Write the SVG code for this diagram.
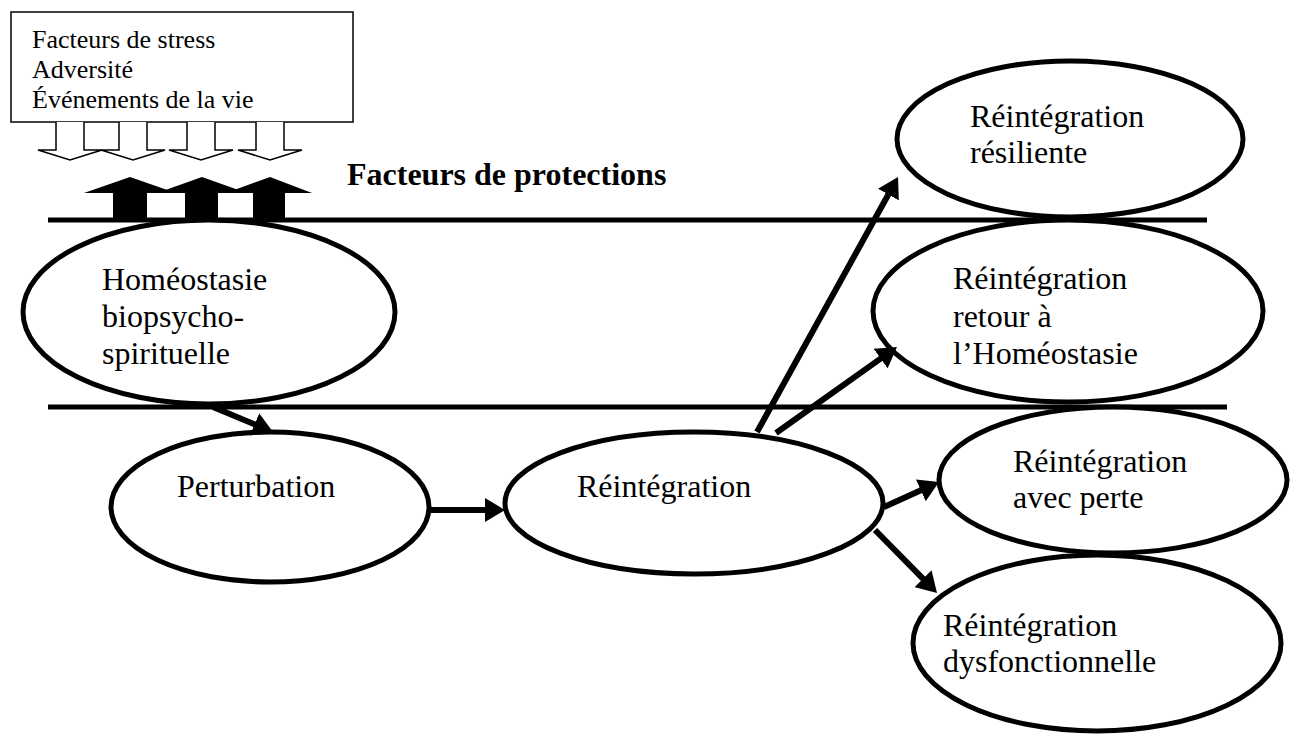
<svg xmlns="http://www.w3.org/2000/svg" width="1296" height="735" viewBox="0 0 1296 735">
<style>
text{font-family:"Liberation Serif","Times New Roman",serif;fill:#000}
.lbl{font-size:32px}
.box{font-size:26px}
.bold{font-size:32px;font-weight:bold}
.ell{fill:#fff;stroke:#000;stroke-width:5}
.rule{stroke:#000;stroke-width:5}
.con{stroke:#000;stroke-width:6;fill:none;marker-end:url(#ah)}
.wa{fill:#fff;stroke:#000;stroke-width:1.5}
.ba{fill:#000}
</style>
<defs>
<marker id="ah" viewBox="0 0 20 24" markerWidth="20" markerHeight="24" refX="2" refY="12" orient="auto" markerUnits="userSpaceOnUse">
<path d="M0,0 L20,12 L0,24 z" fill="#000"/>
</marker>
</defs>
<rect width="1296" height="735" fill="#fff"/>

<g id="rules">
<line class="rule" x1="48" y1="220" x2="1207" y2="220"/>
<line class="rule" x1="48" y1="407" x2="1227" y2="407"/>
</g>

<g id="stress-box">
<rect x="11" y="12" width="342" height="110" fill="#fff" stroke="#000" stroke-width="1.5"/>
<text class="box" x="32" y="48">Facteurs de stress</text>
<text class="box" x="32" y="78">Adversité</text>
<text class="box" x="32" y="108">Événements de la vie</text>
</g>

<g id="stress-arrows">
<path class="wa" d="M56,122 L56,150 L38,150 L70,160 L102,150 L84,150 L84,122"/>
<path class="wa" d="M119,122 L119,150 L101,150 L133,160 L165,150 L147,150 L147,122"/>
<path class="wa" d="M187,122 L187,150 L169,150 L201,160 L233,150 L215,150 L215,122"/>
<path class="wa" d="M256,122 L256,150 L238,150 L270,160 L302,150 L284,150 L284,122"/>
</g>

<g id="protection-arrows">
<path class="ba" d="M113,220 L113,193 L84,193 L130,177 L176,193 L147,193 L147,220 z"/>
<path class="ba" d="M185,220 L185,193 L157,193 L202,177 L247,193 L218,193 L218,220 z"/>
<path class="ba" d="M253,220 L253,193 L226,193 L270,177 L312,193 L285,193 L285,220 z"/>
</g>

<g id="protection-label">
<text class="bold" x="347" y="185">Facteurs de protections</text>
</g>

<g id="homeostasie">
<ellipse class="ell" cx="209" cy="312" rx="186" ry="92"/>
<text class="lbl" x="102" y="290">Homéostasie</text>
<text class="lbl" x="102" y="327">biopsycho-</text>
<text class="lbl" x="102" y="364">spirituelle</text>
</g>

<g id="perturbation">
<ellipse class="ell" cx="270" cy="507" rx="159" ry="75"/>
<text class="lbl" x="177" y="497">Perturbation</text>
</g>

<g id="reintegration">
<ellipse class="ell" cx="694" cy="503" rx="189" ry="71"/>
<text class="lbl" x="577" y="497">Réintégration</text>
</g>

<g id="resiliente">
<ellipse class="ell" cx="1070" cy="139" rx="173" ry="78"/>
<text class="lbl" x="970" y="127">Réintégration</text>
<text class="lbl" x="970" y="163">résiliente</text>
</g>

<g id="retour">
<ellipse class="ell" cx="1068" cy="311" rx="195" ry="91"/>
<text class="lbl" x="953" y="289">Réintégration</text>
<text class="lbl" x="953" y="327">retour à</text>
<text class="lbl" x="953" y="364">l’Homéostasie</text>
</g>

<g id="avec-perte">
<ellipse class="ell" cx="1113" cy="480" rx="174" ry="73"/>
<text class="lbl" x="1013" y="472">Réintégration</text>
<text class="lbl" x="1013" y="508">avec perte</text>
</g>

<g id="dysfonctionnelle">
<ellipse class="ell" cx="1097" cy="643" rx="184" ry="88"/>
<text class="lbl" x="943" y="636">Réintégration</text>
<text class="lbl" x="943" y="672">dysfonctionnelle</text>
</g>

<g id="connectors">
<line class="con" x1="213" y1="407" x2="256.4" y2="425.1"/>
<line class="con" x1="430" y1="510" x2="487" y2="510"/>
<line class="con" x1="757" y1="432" x2="889.3" y2="192.8"/>
<line class="con" x1="776" y1="433" x2="882.3" y2="357.4"/>
<line class="con" x1="884" y1="507" x2="922.6" y2="489.5"/>
<line class="con" x1="875" y1="530" x2="924.4" y2="580.2"/>
</g>
</svg>
